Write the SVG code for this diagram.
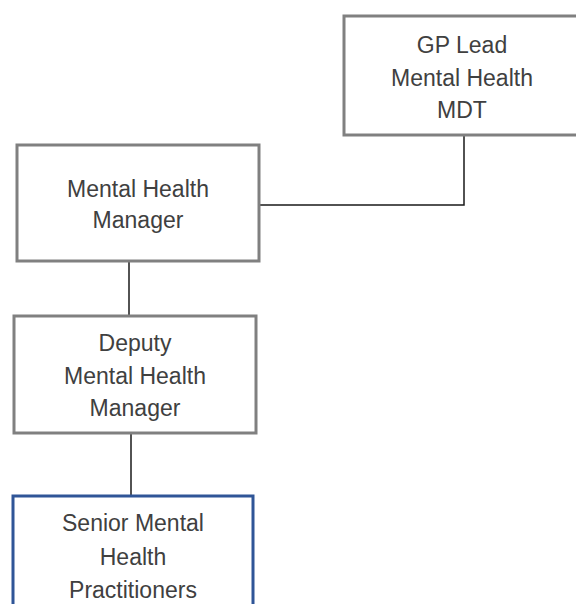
<svg xmlns="http://www.w3.org/2000/svg" width="576" height="604" viewBox="0 0 576 604">
<style>
.box{fill:#ffffff;stroke:#808080;stroke-width:3}
.blue{fill:#ffffff;stroke:#2f5597;stroke-width:3}
.lbl{font-family:"Liberation Sans",Arial,sans-serif;font-size:23px;fill:#404040;text-anchor:middle}
.conn{fill:none;stroke:#1a1a1a;stroke-width:1.5}
</style>
<rect width="576" height="604" fill="#ffffff"/>
<g id="connectors">
<polyline class="conn" points="464,135 464,205 259,205"/>
<line class="conn" x1="129" y1="261" x2="129" y2="316"/>
<line class="conn" x1="131" y1="433" x2="131" y2="496"/>
</g>
<g id="gp-lead">
<rect class="box" x="344" y="16" width="250" height="119"/>
<text class="lbl" x="462" y="53">GP Lead</text>
<text class="lbl" x="462" y="86">Mental Health</text>
<text class="lbl" x="462" y="118">MDT</text>
</g>
<g id="mh-manager">
<rect class="box" x="17" y="145" width="242" height="116"/>
<text class="lbl" x="138" y="197">Mental Health</text>
<text class="lbl" x="138" y="228">Manager</text>
</g>
<g id="deputy">
<rect class="box" x="14" y="316" width="242" height="117"/>
<text class="lbl" x="135" y="351">Deputy</text>
<text class="lbl" x="135" y="384">Mental Health</text>
<text class="lbl" x="135" y="416">Manager</text>
</g>
<g id="senior">
<rect class="blue" x="13" y="496" width="240" height="130"/>
<text class="lbl" x="133" y="531">Senior Mental</text>
<text class="lbl" x="133" y="565">Health</text>
<text class="lbl" x="133" y="598">Practitioners</text>
</g>
</svg>
